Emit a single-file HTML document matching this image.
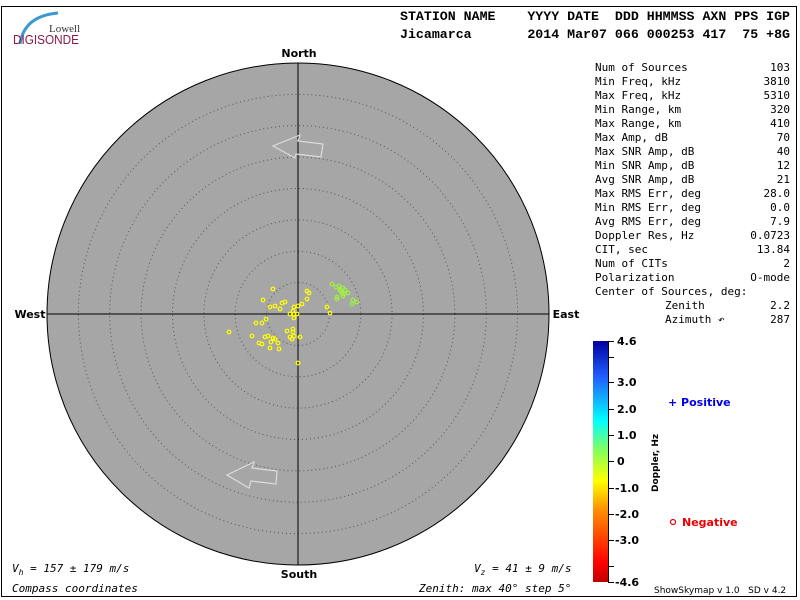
<!DOCTYPE html>
<html><head><style>body{margin:0;background:#fff}svg{display:block}</style></head><body>
<svg width="800" height="600" xmlns="http://www.w3.org/2000/svg">
<defs>
<linearGradient id="cb" x1="0" y1="1" x2="0" y2="0">
<stop offset="0" stop-color="#c00000"/><stop offset="0.08" stop-color="#ff0000"/>
<stop offset="0.3" stop-color="#ff9000"/><stop offset="0.42" stop-color="#ffff00"/>
<stop offset="0.55" stop-color="#80ff60"/><stop offset="0.67" stop-color="#00ffff"/>
<stop offset="0.85" stop-color="#2060ff"/><stop offset="1" stop-color="#0000a0"/>
</linearGradient>
</defs>
<rect x="1.5" y="6.5" width="795" height="590" fill="none" stroke="#000"/>
<path d="M20 44 Q24 16 58 13" stroke="#3a9ad0" stroke-width="3" fill="none"/>
<text x="49" y="32" font-family="Liberation Serif" font-size="11" fill="#333">Lowell</text>
<text x="13" y="44" font-family="Liberation Sans" font-size="13" fill="#8b1a4a" textLength="66" lengthAdjust="spacingAndGlyphs">DIGISONDE</text>
<g font-family="Liberation Mono" font-weight="bold" font-size="13" fill="#000">
<text x="400" y="20" textLength="390" lengthAdjust="spacingAndGlyphs" xml:space="preserve">STATION NAME    YYYY DATE  DDD HHMMSS AXN PPS IGP</text>
<text x="400" y="38" textLength="390" lengthAdjust="spacingAndGlyphs" xml:space="preserve">Jicamarca       2014 Mar07 066 000253 417  75 +8G</text>
</g>
<circle cx="298" cy="314" r="251" fill="#a6a6a6" stroke="#000"/>
<g fill="none" stroke="#555" stroke-dasharray="1 3">
<circle cx="298" cy="314" r="31.4"/><circle cx="298" cy="314" r="62.8"/><circle cx="298" cy="314" r="94.1"/><circle cx="298" cy="314" r="125.5"/><circle cx="298" cy="314" r="156.9"/><circle cx="298" cy="314" r="188.3"/><circle cx="298" cy="314" r="219.6"/>
</g>
<line x1="298" y1="63" x2="298" y2="565" stroke="#000"/>
<line x1="47" y1="314" x2="549" y2="314" stroke="#000"/>
<g fill="none" stroke="#ddd" stroke-width="1.2">
<polygon points="273,146 300,135 298,141 323,144 321,157 296,154 295,158"/>
<polygon points="227,475 254,462 252,468 277,471 276,484 251,481 249,488"/>
</g>
<g font-family="DejaVu Sans" font-weight="bold" font-size="11" fill="#000" text-anchor="middle">
<text x="299" y="57">North</text><text x="299" y="578">South</text>
<text x="30" y="318">West</text><text x="566" y="318">East</text>
</g>
<g fill="none" stroke="#ffff00" stroke-width="1.2">
<circle cx="273" cy="289" r="1.8"/><circle cx="263" cy="300" r="1.8"/><circle cx="270" cy="307" r="1.8"/><circle cx="275" cy="306" r="1.8"/><circle cx="282" cy="303" r="1.8"/><circle cx="285" cy="302" r="1.8"/><circle cx="280" cy="309" r="1.8"/><circle cx="294" cy="307" r="1.8"/><circle cx="298" cy="306" r="1.8"/><circle cx="302" cy="304" r="1.8"/><circle cx="307" cy="291" r="1.8"/><circle cx="309" cy="293" r="1.8"/><circle cx="307" cy="299" r="1.8"/><circle cx="293" cy="311" r="1.8"/><circle cx="290" cy="314" r="1.8"/><circle cx="294" cy="314" r="1.8"/><circle cx="297" cy="314" r="1.8"/><circle cx="294" cy="318" r="1.8"/><circle cx="266" cy="319" r="1.8"/><circle cx="256" cy="323" r="1.8"/><circle cx="262" cy="323" r="1.8"/><circle cx="229" cy="332" r="1.8"/><circle cx="252" cy="336" r="1.8"/><circle cx="265" cy="337" r="1.8"/><circle cx="268" cy="336" r="1.8"/><circle cx="273" cy="338" r="1.8"/><circle cx="275" cy="339" r="1.8"/><circle cx="271" cy="342" r="1.8"/><circle cx="278" cy="343" r="1.8"/><circle cx="259" cy="343" r="1.8"/><circle cx="262" cy="344" r="1.8"/><circle cx="270" cy="348" r="1.8"/><circle cx="279" cy="349" r="1.8"/><circle cx="287" cy="331" r="1.8"/><circle cx="293" cy="329" r="1.8"/><circle cx="293" cy="332" r="1.8"/><circle cx="290" cy="337" r="1.8"/><circle cx="292" cy="339" r="1.8"/><circle cx="294" cy="336" r="1.8"/><circle cx="300" cy="337" r="1.8"/><circle cx="298" cy="363" r="1.8"/><circle cx="327" cy="307" r="1.8"/><circle cx="330" cy="313" r="1.8"/>
</g>
<g fill="none" stroke="#a0f040" stroke-width="1.2">
<circle cx="332" cy="284" r="1.8"/><circle cx="336" cy="287" r="1.8"/><circle cx="339" cy="286" r="1.8"/><circle cx="343" cy="288" r="1.8"/><circle cx="342" cy="293" r="1.8"/><circle cx="344" cy="294" r="1.8"/><circle cx="348" cy="293" r="1.8"/><circle cx="337" cy="297" r="1.8"/><circle cx="337" cy="299" r="1.8"/><circle cx="343" cy="296" r="1.8"/><circle cx="353" cy="300" r="1.8"/><circle cx="357" cy="302" r="1.8"/><circle cx="352" cy="304" r="1.8"/><circle cx="340" cy="290" r="1.8"/><circle cx="341" cy="291" r="1.8"/><circle cx="345" cy="290" r="1.8"/>
</g>
<g font-family="DejaVu Sans Mono" font-size="11" fill="#000">
<text x="595" y="71">Num of Sources</text><text x="790" y="71" text-anchor="end">103</text>
<text x="595" y="85">Min Freq, kHz</text><text x="790" y="85" text-anchor="end">3810</text>
<text x="595" y="99">Max Freq, kHz</text><text x="790" y="99" text-anchor="end">5310</text>
<text x="595" y="113">Min Range, km</text><text x="790" y="113" text-anchor="end">320</text>
<text x="595" y="127">Max Range, km</text><text x="790" y="127" text-anchor="end">410</text>
<text x="595" y="141">Max Amp, dB</text><text x="790" y="141" text-anchor="end">70</text>
<text x="595" y="155">Max SNR Amp, dB</text><text x="790" y="155" text-anchor="end">40</text>
<text x="595" y="169">Min SNR Amp, dB</text><text x="790" y="169" text-anchor="end">12</text>
<text x="595" y="183">Avg SNR Amp, dB</text><text x="790" y="183" text-anchor="end">21</text>
<text x="595" y="197">Max RMS Err, deg</text><text x="790" y="197" text-anchor="end">28.0</text>
<text x="595" y="211">Min RMS Err, deg</text><text x="790" y="211" text-anchor="end">0.0</text>
<text x="595" y="225">Avg RMS Err, deg</text><text x="790" y="225" text-anchor="end">7.9</text>
<text x="595" y="239">Doppler Res, Hz</text><text x="790" y="239" text-anchor="end">0.0723</text>
<text x="595" y="253">CIT, sec</text><text x="790" y="253" text-anchor="end">13.84</text>
<text x="595" y="267">Num of CITs</text><text x="790" y="267" text-anchor="end">2</text>
<text x="595" y="281">Polarization</text><text x="790" y="281" text-anchor="end">O-mode</text>
<text x="595" y="295">Center of Sources, deg:</text>
<text x="665" y="309">Zenith</text><text x="790" y="309" text-anchor="end">2.2</text>
<text x="665" y="323">Azimuth ↶</text><text x="790" y="323" text-anchor="end">287</text>
</g>
<rect x="593" y="341" width="15" height="241" fill="url(#cb)"/>
<line x1="608.5" y1="341" x2="608.5" y2="582" stroke="#000"/>
<g stroke="#000">
<line x1="608" y1="341.5" x2="614" y2="341.5"/><line x1="608" y1="357.5" x2="614" y2="357.5"/><line x1="608" y1="382.5" x2="614" y2="382.5"/><line x1="608" y1="409.5" x2="614" y2="409.5"/><line x1="608" y1="435.5" x2="614" y2="435.5"/><line x1="608" y1="461.5" x2="614" y2="461.5"/><line x1="608" y1="488.5" x2="614" y2="488.5"/><line x1="608" y1="514.5" x2="614" y2="514.5"/><line x1="608" y1="540.5" x2="614" y2="540.5"/><line x1="608" y1="566.5" x2="614" y2="566.5"/><line x1="608" y1="582.5" x2="614" y2="582.5"/>
</g>
<g font-family="DejaVu Sans" font-weight="bold" font-size="11" fill="#000">
<text x="617" y="345">4.6</text><text x="617" y="386">3.0</text><text x="617" y="413">2.0</text><text x="617" y="439">1.0</text><text x="617" y="465">0</text><text x="615" y="492">-1.0</text><text x="615" y="518">-2.0</text><text x="615" y="544">-3.0</text><text x="615" y="586">-4.6</text>
<text transform="translate(658,492) rotate(-90)" font-size="9">Doppler, Hz</text>
<text x="668" y="406" fill="#0000ee" font-size="11">+ Positive</text>
<text x="682" y="526" fill="#ee0000" font-size="11">Negative</text>
</g>
<circle cx="673" cy="522" r="2.5" fill="none" stroke="#ee0000" stroke-width="1.2"/>
<g font-family="DejaVu Sans Mono" font-style="italic" font-size="11" fill="#000">
<text x="12" y="572">V<tspan font-size="8" dy="3">h</tspan><tspan dy="-3"> = 157 ± 179 m/s</tspan></text>
<text x="12" y="592">Compass coordinates</text>
<text x="474" y="572">V<tspan font-size="8" dy="3">z</tspan><tspan dy="-3"> = 41 ± 9 m/s</tspan></text>
<text x="419" y="592">Zenith: max 40°  step 5°</text>
</g>
<text x="654" y="593" font-family="DejaVu Sans" font-size="9" fill="#000" xml:space="preserve">ShowSkymap v 1.0   SD v 4.2</text>
</svg>
</body></html>
